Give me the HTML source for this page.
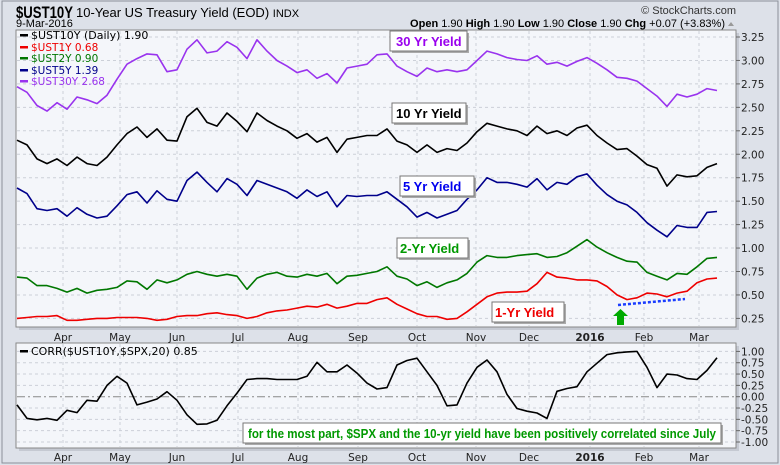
<!DOCTYPE html>
<html><head><meta charset="utf-8"><style>
html,body{margin:0;padding:0;background:#dde1e9;}
svg{display:block;font-family:"Liberation Sans",sans-serif;}
.ax{font-family:"DejaVu Sans",sans-serif;font-size:10.5px;fill:#222;}
.lg{font-family:"DejaVu Sans",sans-serif;font-size:11px;}
.note{font-weight:bold;font-size:13px;}
</style></head><body>
<svg id="chart" width="780" height="465" viewBox="0 0 780 465">
<rect x="2" y="1" width="776" height="462" fill="#dde1e9" stroke="#8a8f99"/>
<text x="16" y="18" font-size="17" font-weight="bold" textLength="57" lengthAdjust="spacingAndGlyphs">$UST10Y</text>
<text x="76" y="17" font-size="13">10-Year US Treasury Yield (EOD) <tspan font-size="11">INDX</tspan></text>
<text x="16" y="27" font-size="11">9-Mar-2016</text>
<text x="736" y="14" font-size="11" text-anchor="end" fill="#333">© StockCharts.com</text>
<text x="725" y="27" font-size="11" text-anchor="end"><tspan font-weight="bold">Open</tspan> 1.90 <tspan font-weight="bold">High</tspan> 1.90 <tspan font-weight="bold">Low</tspan> 1.90 <tspan font-weight="bold">Close</tspan> 1.90 <tspan font-weight="bold">Chg</tspan> +0.07 (+3.83%)</text>
<path d="M728 26 L731 22 L734 26 Z" fill="#999"/>
<rect x="19" y="33" width="720" height="297" fill="#c5c9d2"/>
<rect x="16" y="30" width="720" height="297" fill="#f4f6fa" stroke="#888"/>
<rect x="19" y="346" width="720" height="105" fill="#c5c9d2"/>
<rect x="16" y="343" width="720" height="105" fill="#f4f6fa" stroke="#888"/>
<g id="grid"></g>
<g id="series"></g>
<g id="labels"></g>
<g class="lg">
<rect x="20" y="34" width="8" height="2.5" fill="#000"/><text x="31" y="39" fill="#000">$UST10Y (Daily) 1.90</text>
<rect x="20" y="46" width="8" height="2.5" fill="#e00"/><text x="31" y="51" fill="#e00" font-size="10.5">$UST1Y 0.68</text>
<rect x="20" y="57" width="8" height="2.5" fill="#070"/><text x="31" y="62" fill="#070" font-size="10.5">$UST2Y 0.90</text>
<rect x="20" y="69" width="8" height="2.5" fill="#00008b"/><text x="31" y="74" fill="#00008b" font-size="10.5">$UST5Y 1.39</text>
<rect x="20" y="80" width="8" height="2.5" fill="#9933ee"/><text x="31" y="85" fill="#9933ee" font-size="10.5">$UST30Y 2.68</text>
</g>
<g class="lg"><rect x="20" y="350" width="8" height="2.5" fill="#000"/><text x="31" y="355">CORR($UST10Y,$SPX,20) 0.85</text></g>
<g><rect x="392" y="33" width="77" height="20" fill="#aaa"/><rect x="390" y="31" width="77" height="20" fill="#fff" stroke="#777"/><text x="396" y="46" class="note" fill="#9900ee">30 Yr Yield</text></g>
<g><rect x="394" y="105" width="74" height="20" fill="#aaa"/><rect x="392" y="103" width="74" height="20" fill="#fff" stroke="#777"/><text x="396" y="118" class="note" fill="#000">10 Yr Yield</text></g>
<g><rect x="402" y="178" width="74" height="20" fill="#aaa"/><rect x="400" y="176" width="74" height="20" fill="#fff" stroke="#777"/><text x="403" y="191" class="note" fill="#0000ee">5 Yr Yield</text></g>
<g><rect x="399" y="240" width="71" height="20" fill="#aaa"/><rect x="397" y="238" width="71" height="20" fill="#fff" stroke="#777"/><text x="400" y="253" class="note" fill="#009900">2-Yr Yield</text></g>
<g><rect x="494" y="304" width="72" height="20" fill="#aaa"/><rect x="492" y="302" width="72" height="20" fill="#fff" stroke="#777"/><text x="495" y="317" class="note" fill="#ee0000">1-Yr Yield</text></g>
<line x1="618" y1="305" x2="685" y2="299" stroke="#1a3cff" stroke-width="2.5" stroke-dasharray="3,2"/>
<path d="M620.5 309 L628 316 L624 316 L624 325 L617 325 L617 316 L613 316 Z" fill="#0a0"/>
<g><rect x="245" y="425" width="478" height="20" fill="#aaa"/><rect x="243" y="423" width="478" height="20" fill="#fff" stroke="#777"/><text x="248" y="438" class="note" font-size="12.5" fill="#009900" textLength="468" lengthAdjust="spacingAndGlyphs">for the most part, $SPX and the 10-yr yield have been positively correlated since July</text></g>
</svg>
<script>
const months = ["Apr","May","Jun","Jul","Aug","Sep","Oct","Nov","Dec","2016","Feb","Mar"];
const monthIdx = [4.6,10.3,16,22.1,28.1,34.1,40,45.9,51.2,57.3,62.7,68.2];
const mainTicks = [0.25,0.5,0.75,1.0,1.25,1.5,1.75,2.0,2.25,2.5,2.75,3.0,3.25];
const corrTicks = [-1.0,-0.75,-0.5,-0.25,0,0.25,0.5,0.75,1.0];
const y30 = [2.72,2.66,2.52,2.46,2.55,2.48,2.61,2.58,2.54,2.63,2.80,2.96,3.02,3.07,3.06,2.88,2.90,3.12,3.22,3.08,3.10,3.20,3.14,3.02,3.22,3.10,3.00,2.94,2.87,2.90,2.81,2.86,2.76,2.92,2.94,2.96,3.06,3.07,2.94,2.88,2.83,2.92,2.88,2.90,2.88,2.90,3.00,3.10,3.07,3.03,3.01,3.00,3.05,2.96,2.98,2.94,2.99,3.03,2.97,2.90,2.82,2.81,2.78,2.70,2.62,2.51,2.64,2.61,2.64,2.70,2.68];
const y10 = [2.15,2.10,1.95,1.90,1.95,1.88,1.97,1.90,1.88,1.97,2.10,2.22,2.29,2.18,2.27,2.15,2.14,2.40,2.49,2.34,2.30,2.44,2.35,2.24,2.44,2.36,2.30,2.25,2.17,2.22,2.13,2.18,2.02,2.16,2.18,2.20,2.20,2.27,2.14,2.10,2.02,2.10,2.02,2.06,2.04,2.12,2.24,2.33,2.30,2.27,2.25,2.20,2.30,2.22,2.25,2.20,2.28,2.31,2.20,2.12,2.05,2.06,1.98,1.89,1.85,1.66,1.78,1.76,1.77,1.86,1.90];
const y5 = [1.64,1.58,1.42,1.40,1.42,1.34,1.43,1.36,1.32,1.34,1.45,1.57,1.60,1.48,1.61,1.52,1.50,1.72,1.81,1.70,1.60,1.74,1.68,1.56,1.72,1.68,1.64,1.60,1.53,1.62,1.55,1.60,1.44,1.56,1.55,1.56,1.56,1.60,1.52,1.44,1.33,1.38,1.32,1.36,1.40,1.52,1.62,1.75,1.70,1.70,1.68,1.65,1.74,1.62,1.70,1.68,1.76,1.79,1.67,1.57,1.50,1.46,1.38,1.27,1.19,1.12,1.24,1.22,1.22,1.38,1.39];
const y2 = [0.69,0.68,0.60,0.60,0.57,0.53,0.57,0.52,0.55,0.56,0.58,0.65,0.64,0.56,0.66,0.63,0.66,0.72,0.75,0.72,0.70,0.72,0.70,0.56,0.68,0.72,0.74,0.70,0.69,0.72,0.70,0.73,0.62,0.70,0.71,0.73,0.75,0.80,0.70,0.67,0.60,0.64,0.58,0.63,0.66,0.73,0.85,0.92,0.90,0.90,0.92,0.93,0.94,0.90,0.91,0.95,1.02,1.09,1.01,0.95,0.90,0.86,0.85,0.74,0.70,0.66,0.73,0.72,0.80,0.89,0.90];
const y1 = [0.25,0.26,0.27,0.27,0.28,0.23,0.23,0.24,0.25,0.25,0.26,0.26,0.26,0.25,0.23,0.24,0.27,0.28,0.28,0.30,0.31,0.29,0.28,0.25,0.27,0.31,0.33,0.34,0.36,0.38,0.37,0.40,0.36,0.38,0.41,0.41,0.45,0.47,0.40,0.35,0.30,0.27,0.27,0.24,0.25,0.32,0.40,0.48,0.52,0.53,0.53,0.54,0.62,0.74,0.69,0.68,0.66,0.66,0.65,0.59,0.50,0.45,0.47,0.52,0.51,0.48,0.52,0.54,0.63,0.67,0.68];
const corr = [-0.18,-0.48,-0.51,-0.48,-0.52,-0.30,-0.35,-0.08,-0.10,0.25,0.45,0.30,-0.18,-0.12,-0.05,0.11,-0.08,-0.40,-0.61,-0.60,-0.52,-0.20,0.08,0.38,0.40,0.40,0.38,0.38,0.38,0.45,0.76,0.55,0.55,0.70,0.52,0.30,0.17,0.20,0.70,0.80,0.85,0.55,0.25,-0.20,-0.18,0.30,0.65,0.81,0.55,0.05,-0.26,-0.32,-0.36,-0.48,0.12,0.18,0.22,0.55,0.74,0.93,0.97,0.99,1.00,0.65,0.20,0.50,0.48,0.40,0.38,0.58,0.86];

const NS="http://www.w3.org/2000/svg";
const N = y10.length;
function xs(i){return 17 + i*(700/(N-1));}
function ym(v){return 37 + (3.25-v)*93.8;}
function yc(v){return 396.7 - v*45.3;}
const grid=document.getElementById('grid'), ser=document.getElementById('series'), lab=document.getElementById('labels');
function mk(tag,attrs,parent){const e=document.createElementNS(NS,tag);for(const k in attrs)e.setAttribute(k,attrs[k]);parent.appendChild(e);return e;}
months.forEach((m,k)=>{
  const x=xs(monthIdx[k]);
  const g1=mk('line',{x1:x,y1:31,x2:x,y2:326,stroke:'#ccd0d8','stroke-dasharray':'3,3'},grid);
  
  
  const g2=mk('line',{x1:x,y1:344,x2:x,y2:447,stroke:'#ccd0d8','stroke-dasharray':'3,3'},grid);
  
  
  [337,457].forEach((yy,j)=>{
    const t=mk('text',{x:x,y:yy+4,'text-anchor':'middle',class:'ax','font-weight':m==='2016'?'bold':'normal'},lab);
    t.textContent=m;
    
    
  });
});
mainTicks.forEach(v=>{
  const y=ym(v);
  const l=mk('line',{x1:17,y1:y,x2:735,y2:y,stroke:'#ccd0d8','stroke-dasharray':'3,3'},grid);
  
  
  mk('line',{x1:736,y1:y,x2:740,y2:y,stroke:'#666'},grid);
  const t=mk('text',{x:741,y:y+4,class:'ax'},lab);
  t.textContent=v.toFixed(2);
  
  
});
corrTicks.forEach(v=>{
  const y=yc(v);
  const l=mk('line',v===0?{x1:17,y1:y,x2:735,y2:y,stroke:'#888','stroke-dasharray':'8,3,2,3'}:{x1:17,y1:y,x2:735,y2:y,stroke:'#ccd0d8','stroke-dasharray':'3,3'},grid);
  
  
  mk('line',{x1:736,y1:y,x2:740,y2:y,stroke:'#666'},grid);
  const t=mk('text',{x:741,y:y+4,class:'ax'},lab);
  t.textContent=v.toFixed(2);
  
  
});
function line(data,fy,color,name){
  const d=data.map((v,i)=>(i?'L':'M')+xs(i).toFixed(1)+' '+fy(v).toFixed(1)).join(' ');
  const p=mk('path',{d:d,fill:'none',stroke:color,'stroke-width':1.6,'stroke-linejoin':'round'},ser);
  
  
}
line(y30,ym,'#9933ee','ust30y-line');
line(y10,ym,'#000000','ust10y-line');
line(y5,ym,'#00008b','ust5y-line');
line(y2,ym,'#007700','ust2y-line');
line(y1,ym,'#ee0000','ust1y-line');
line(corr,yc,'#000000','corr-line');
</script>
</body></html>
